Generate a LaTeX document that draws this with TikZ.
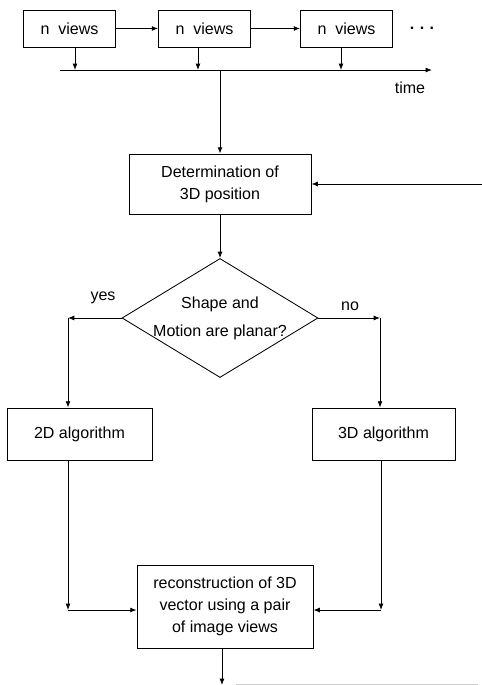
\documentclass[tikz,border=0pt]{standalone}
\usepackage{fontspec}
\setmainfont{Liberation Sans}
\usepackage{tikz}
\usetikzlibrary{arrows.meta,shapes.geometric}

\begin{document}
\begin{tikzpicture}[line width=0.6pt, font=\fontsize{11.4}{15.5}\selectfont,
    >={Latex[length=4.5pt,width=3.5pt]},
    viewbox/.style={rectangle, draw=black, minimum width=2.3cm, minimum height=0.925cm, inner sep=0pt},
    stepbox/.style={rectangle, draw=black, align=center, inner sep=0pt},
    decision/.style={diamond, draw=black, aspect=1.65, inner sep=-1.6pt, minimum width=4.9cm, minimum height=2.975cm, align=center}]
    \useasboundingbox (0,0) rectangle (12.05,-17.125);

    % views along the time axis
    \node[viewbox] (v1) at (1.7375, -0.7125) {n\ \ views};
    \node[viewbox] (v2) at (5.1125, -0.7125) {n\ \ views};
    \node[viewbox] (v3) at (8.6625, -0.7125) {n\ \ views};
    \node (dots) at (10.55, -0.72) {\textbf{.\,\,.\,\,.}};
    \node (time) at (10.25, -2.2) {time};

    \coordinate (tstart) at (1.5, -1.75);
    \coordinate (tend) at (10.8, -1.75);
    \coordinate (t1) at (1.875, -1.75);
    \coordinate (t2) at (4.95, -1.75);
    \coordinate (t3) at (8.525, -1.75);
    \coordinate (tout) at (5.5, -1.75);

    \draw[->] (v1) -- (v2);
    \draw[->] (v2) -- (v3);
    \draw[->] (v1.south -| t1) -- (t1);
    \draw[->] (v2.south -| t2) -- (t2);
    \draw[->] (v3.south -| t3) -- (t3);
    \draw[->] (tstart) -- (tend);

    % main flow
    \node[stepbox, minimum width=4.55cm, minimum height=1.5cm] (det) at (5.5, -4.6) {Determination of\\3D position};
    \node[decision] (dia) at (5.5, -7.95) {Shape and\\[4.4pt]Motion are planar?};
    \node[stepbox, minimum width=3.625cm, minimum height=1.3cm] (b2d) at (1.9875, -10.85) {2D algorithm};
    \node[stepbox, minimum width=3.575cm, minimum height=1.3cm] (b3d) at (9.5875, -10.85) {3D algorithm};
    \node[stepbox, minimum width=4.4cm, minimum height=2.075cm] (rec) at (5.625, -15.1625) {reconstruction of 3D\\vector using a pair\\of image views};

    \coordinate (fb) at (12.05, -4.6);
    \coordinate (yesc) at (1.7, -7.95);
    \coordinate (noc) at (9.5, -7.95);
    \coordinate (ybot) at (1.7, -15.25);
    \coordinate (nbot) at (9.525, -15.25);
    \coordinate (out) at (5.55, -17.125);
    \coordinate (loopa) at (5.9, -17.1);
    \coordinate (loopb) at (11.95, -17.1);

    \node (yes) at (2.575, -7.45) {yes};
    \node (no) at (8.75, -7.65) {no};

    \draw[->] (tout) -- (det);
    \draw[->] (fb) -- (det.east);
    \draw[->] (det) -- (dia);
    \draw[->] (dia.west) -- (yesc);
    \draw[->] (yesc) -- (yesc |- b2d.north);
    \draw[->] (dia.east) -- (noc);
    \draw[->] (noc) -- (noc |- b3d.north);
    \draw[->] (yesc |- b2d.south) -- (ybot);
    \draw[->] (ybot) -- (rec.west |- ybot);
    \draw[->] (nbot |- b3d.south) -- (nbot);
    \draw[->] (nbot) -- (rec.east |- nbot);
    \draw[->] (rec.south -| out) -- (out);
    \draw[gray!40, line width=0.4pt] (loopa) -- (loopb);
\end{tikzpicture}
\end{document}
